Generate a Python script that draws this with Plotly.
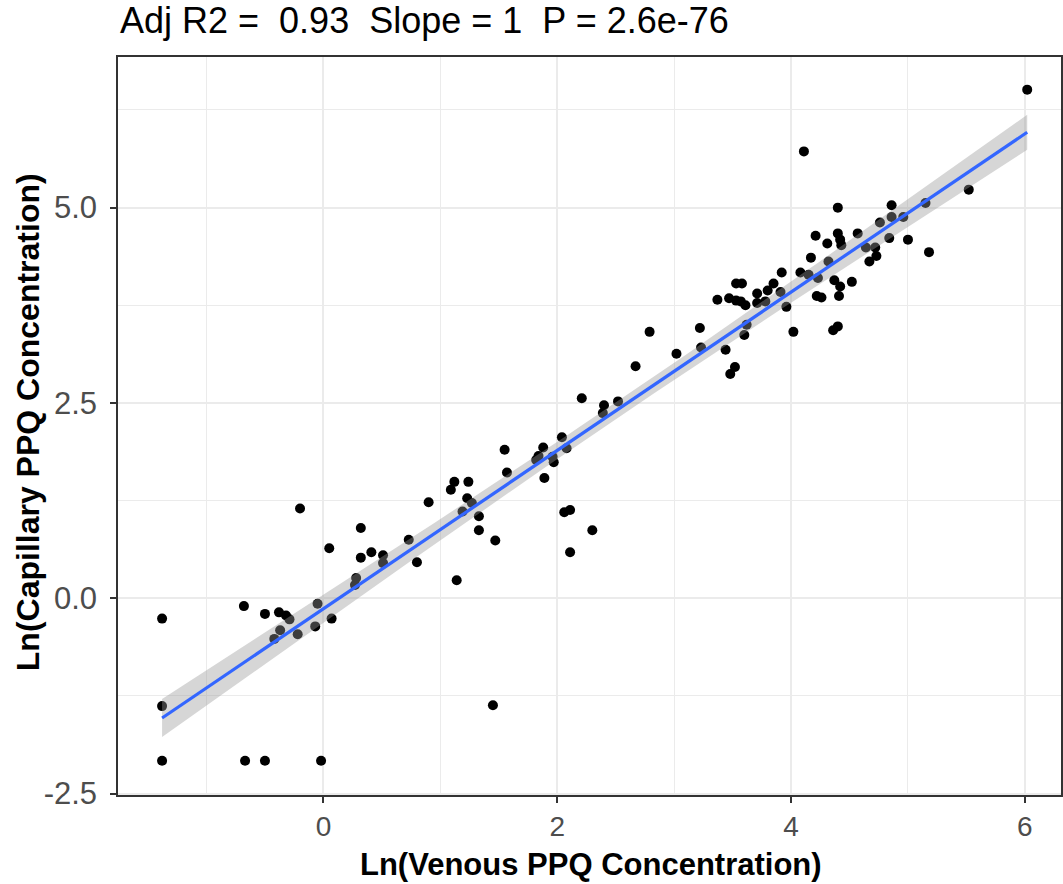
import numpy as np
import plotly.graph_objects as go

# Ln(Venous PPQ concentration) and Ln(Capillary PPQ concentration)
venous = [
    -1.38, -1.38, -1.38, -0.68, -0.50, -0.38, -0.32, -0.29, -0.37, -0.42,
    -0.22, -0.07, -0.05, 0.07, -0.67, -0.50, -0.02, 0.28, 0.27, 0.32,
    0.51, -0.20, 0.05, 0.32, 0.41, 0.51, 0.73, 0.80, 0.90, 1.14,
    1.09, 1.12, 1.24, 1.23, 1.27, 1.19, 1.33, 1.33, 1.47, 1.55,
    1.57, 1.88, 1.84, 1.82, 1.96, 1.97, 1.89, 2.04, 2.08, 2.06,
    2.11, 2.11, 2.30, 2.21, 2.40, 2.39, 2.52, 1.45, 2.67, 2.79,
    3.02, 3.22, 3.23, 3.44, 3.48, 3.52, 3.60, 3.62, 3.37, 3.47,
    3.53, 3.57, 3.61, 3.53, 3.58, 3.71, 3.71, 3.78, 3.80, 3.85,
    3.91, 3.92, 3.96, 4.02, 4.08, 4.17, 4.23, 4.22, 4.26, 4.31,
    4.37, 4.42, 4.41, 4.36, 4.40, 4.42, 4.11, 6.02, 5.52, 4.40,
    4.86, 5.15, 4.76, 4.86, 4.96, 4.84, 5.00, 5.18, 4.21, 4.40,
    4.43, 4.57, 4.64, 4.72, 4.73, 4.67, 4.32, 4.15, 4.52,
]
capillary = [
    -0.26, -1.38, -2.08, -0.10, -0.20, -0.18, -0.22, -0.27, -0.41, -0.52,
    -0.46, -0.36, -0.07, -0.26, -2.08, -2.08, -2.08, 0.26, 0.17, 0.90,
    0.45, 1.15, 0.64, 0.52, 0.59, 0.55, 0.75, 0.46, 1.23, 0.23,
    1.39, 1.49, 1.49, 1.28, 1.22, 1.11, 1.05, 0.87, 0.74, 1.90,
    1.61, 1.93, 1.82, 1.77, 1.81, 1.74, 1.54, 2.06, 1.92, 1.10,
    1.13, 0.59, 0.87, 2.56, 2.47, 2.37, 2.52, -1.37, 2.97, 3.41,
    3.13, 3.46, 3.21, 3.18, 2.87, 2.96, 3.37, 3.50, 3.82, 3.84,
    3.81, 3.80, 3.75, 4.03, 4.03, 3.90, 3.78, 3.80, 3.94, 4.03,
    3.92, 4.17, 3.73, 3.41, 4.17, 4.36, 4.10, 3.87, 3.85, 4.54,
    4.07, 3.99, 3.87, 3.43, 3.48, 4.59, 5.72, 6.51, 5.23, 5.00,
    5.03, 5.06, 4.81, 4.88, 4.88, 4.61, 4.59, 4.43, 4.64, 4.67,
    4.52, 4.67, 4.49, 4.49, 4.38, 4.31, 4.31, 4.14, 4.05,
]

title_text = "Adj R2 =\u00a0\u00a00.93\u00a0\u00a0Slope = 1\u00a0\u00a0P = 2.6e-76"
x_title = "Ln(Venous PPQ Concentration)"
y_title = "Ln(Capillary PPQ Concentration)"
x_ticks = [0, 2, 4, 6]
x_ticktext = ["0", "2", "4", "6"]
y_ticks = [-2.5, 0.0, 2.5, 5.0]
y_ticktext = ["-2.5", "0.0", "2.5", "5.0"]

# linear fit with 95% confidence band (as geom_smooth(method = "lm"))
x = np.array(venous)
y = np.array(capillary)
n = len(x)
slope, intercept = np.polyfit(x, y, 1)
resid = y - (intercept + slope * x)
s = np.sqrt(np.sum(resid ** 2) / (n - 2))
xbar = x.mean()
sxx = np.sum((x - xbar) ** 2)
xs = np.linspace(x.min(), x.max(), 80)
fit = intercept + slope * xs
se = s * np.sqrt(1.0 / n + (xs - xbar) ** 2 / sxx)
tval = 1.98
upper = fit + tval * se
lower = fit - tval * se

fig = go.Figure()
fig.add_trace(go.Scatter(
    x=venous, y=capillary, mode="markers",
    marker=dict(color="black", size=10, line=dict(width=0)),
    showlegend=False, hoverinfo="skip",
))
fig.add_trace(go.Scatter(
    x=np.concatenate([xs, xs[::-1]]), y=np.concatenate([upper, lower[::-1]]),
    fill="toself", fillcolor="rgba(153,153,153,0.4)", line=dict(width=0),
    mode="lines", showlegend=False, hoverinfo="skip",
))
fig.add_trace(go.Scatter(
    x=xs, y=fit, mode="lines", line=dict(color="#3366FF", width=3.2),
    showlegend=False, hoverinfo="skip",
))

font_family = "Liberation Sans, Arial, sans-serif"
grid_col = "#EBEBEB"
axis_common = dict(
    showline=True, linecolor="#333333", linewidth=1.5, mirror=True,
    ticks="outside", ticklen=6, tickwidth=1.5, tickcolor="#333333",
    showgrid=True, gridcolor=grid_col, gridwidth=1.5, zeroline=False,
    tickmode="array",
)
fig.update_layout(
    width=1063, height=884,
    margin=dict(l=118, r=0, t=57, b=89),
    paper_bgcolor="white", plot_bgcolor="white",
    font=dict(family=font_family),
    xaxis=dict(
        range=[-1.757, 6.309], tickvals=x_ticks, ticktext=x_ticktext,
        minor=dict(tickmode="array", tickvals=[-1, 1, 3, 5], showgrid=True,
                   gridcolor=grid_col, gridwidth=1.2, ticks=""),
        ticklabelstandoff=0,
        tickfont=dict(family=font_family, size=28, color="#4D4D4D"),
        **axis_common,
    ),
    yaxis=dict(
        range=[-2.518, 6.928], tickvals=y_ticks, ticktext=y_ticktext,
        minor=dict(tickmode="array", tickvals=[-1.25, 1.25, 3.75, 6.25], showgrid=True,
                   gridcolor=grid_col, gridwidth=1.2, ticks=""),
        ticklabelstandoff=7,
        tickfont=dict(family=font_family, size=31, color="#4D4D4D"),
        **axis_common,
    ),
    annotations=[
        dict(text=title_text, xref="paper", yref="paper", x=0, y=1 + 37 / 738,
             xanchor="left", yanchor="middle", showarrow=False,
             font=dict(family=font_family, size=36, color="black")),
        dict(text="<b>" + x_title + "</b>", xref="paper", yref="paper",
             x=(592 - 118) / 945, y=-(864 - 795) / 738,
             xanchor="center", yanchor="middle", showarrow=False,
             font=dict(family=font_family, size=31, color="black")),
        dict(text="<b>" + y_title + "</b>", xref="paper", yref="paper",
             x=-(118 - 28) / 945, y=(795 - 422) / 738, textangle=-90,
             xanchor="center", yanchor="middle", showarrow=False,
             font=dict(family=font_family, size=32, color="black")),
    ],
)

fig.write_html("out.html")
